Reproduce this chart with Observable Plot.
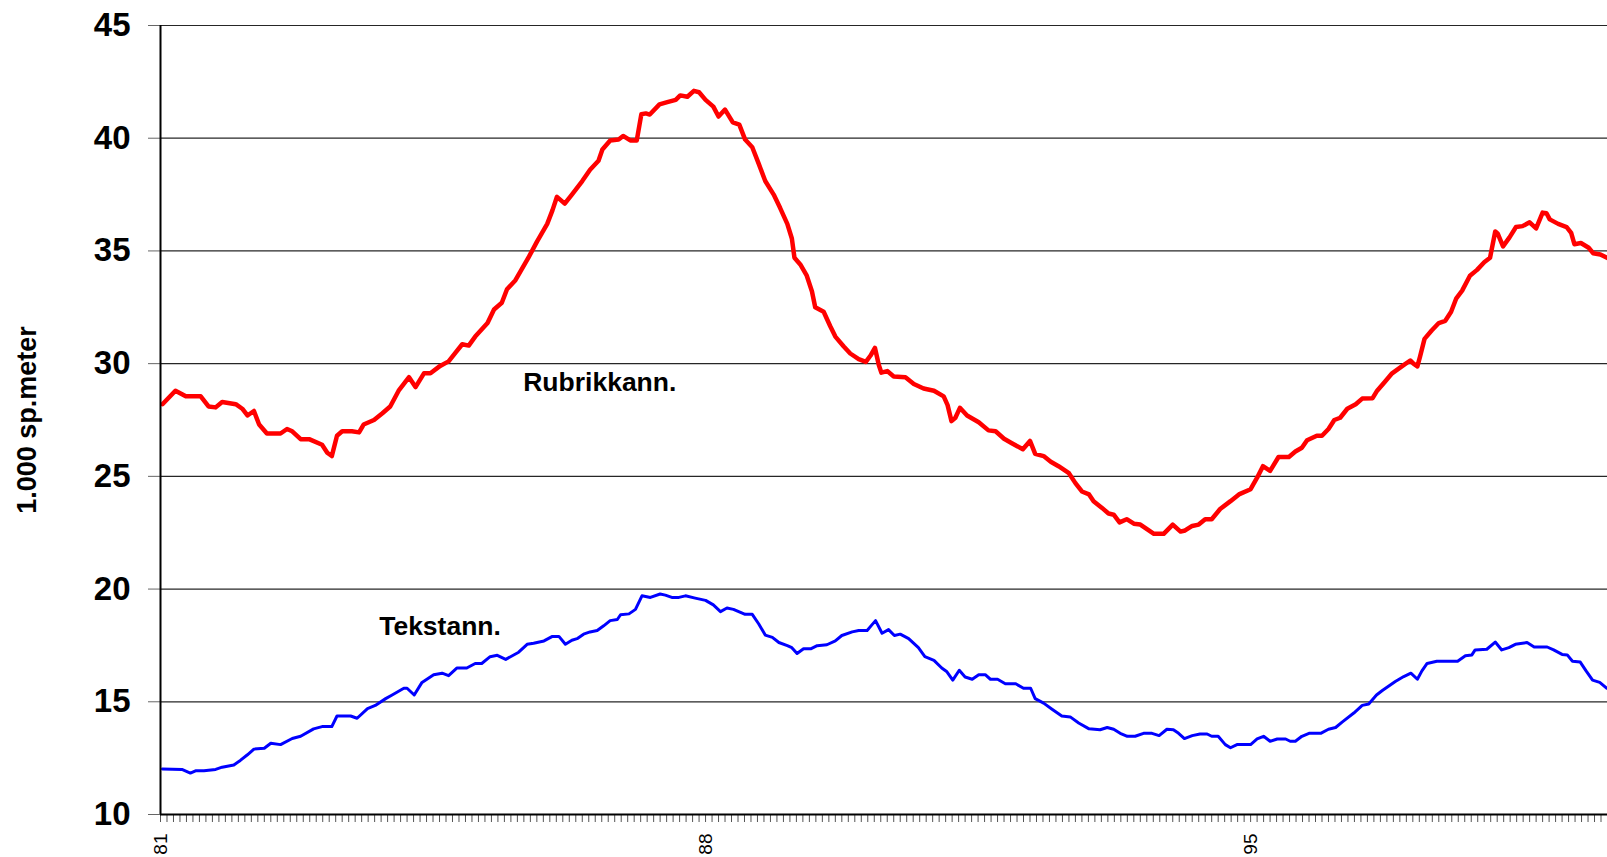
<!DOCTYPE html>
<html>
<head>
<meta charset="utf-8">
<script src="https://cdn.jsdelivr.net/npm/d3@7"></script>
<script src="https://cdn.jsdelivr.net/npm/@observablehq/plot@0.6"></script>
<style>
  html, body { margin: 0; padding: 0; background: #fff; }
  #chart svg { display: block; }
</style>
</head>
<body>
<div id="chart"></div>
<script>
// Month index counted from January 1981 (0 = Jan 81)
const yearTickMonths = [0, 84, 168];
const yearLabels = ["81", "88", "95"];
const monthTicks = d3.range(0, 224);
const yTicks = [10, 15, 20, 25, 30, 35, 40, 45];
const gridValues = [15, 20, 25, 30, 35, 40, 45];
const yTitle = "1.000 sp.meter";

const seriesNames = ["Rubrikkann.", "Tekstann."];

const rubrikMonth = [0.3,2.3,3.9,6.2,7.4,8.5,9.5,11.6,12.6,13.4,14.4,15.2,16.4,18.5,19.5,20.3,21.6,22.9,24.9,25.7,26.4,27.2,28.0,29.5,30.6,31.3,32.9,34.2,35.4,36.7,37.5,38.3,39.3,40.6,41.6,43.1,44.4,45.5,46.5,47.5,48.5,50.4,51.4,52.6,53.4,54.7,55.5,56.7,58.0,59.6,60.4,61.1,62.3,63.4,65.0,66.2,67.5,68.1,69.3,70.6,71.3,72.4,73.4,74.1,74.8,75.4,76.9,78.1,79.4,80.1,81.2,82.2,83.0,84.0,85.2,86.0,87.0,88.2,89.2,90.1,91.2,92.2,93.2,94.5,95.5,96.6,97.3,97.7,98.6,99.6,100.4,100.9,102.2,103.2,104.0,105.3,106.3,107.6,108.7,109.4,110.1,110.7,111.1,112.0,113.0,114.8,116.1,117.6,119.2,120.7,121.3,121.9,122.5,123.2,124.3,126.1,127.6,128.7,130.0,131.2,132.9,134.0,134.8,136.1,137.2,138.4,140.0,141.0,142.0,143.1,143.8,145.1,146.1,146.9,147.8,148.9,150.0,151.0,151.8,153.1,154.6,156.0,157.2,157.9,159.0,160.0,161.0,162.0,163.3,164.9,166.2,168.0,169.0,169.9,171.0,172.3,173.9,174.9,175.9,176.7,178.2,179.0,180.0,180.9,181.8,182.9,184.2,185.2,186.8,187.5,188.7,189.8,191.3,192.6,193.1,193.7,194.1,194.8,195.9,197.0,198.0,198.9,199.7,200.6,201.8,202.9,204.0,204.9,205.7,206.1,206.9,207.9,208.9,209.9,211.0,212.0,213.0,213.6,214.1,215.4,216.7,217.4,217.9,218.9,220.1,220.8,221.9,223.1];
const rubrikValue = [28.2,28.8,28.55,28.55,28.1,28.06,28.3,28.2,28.0,27.7,27.9,27.3,26.9,26.9,27.1,27.0,26.65,26.65,26.4,26.05,25.9,26.8,27.0,27.0,26.95,27.3,27.5,27.8,28.1,28.8,29.1,29.4,28.96,29.57,29.57,29.9,30.1,30.5,30.86,30.8,31.2,31.8,32.4,32.7,33.3,33.7,34.1,34.7,35.4,36.2,36.8,37.4,37.1,37.5,38.1,38.6,39.0,39.5,39.9,39.94,40.1,39.9,39.9,41.06,41.1,41.05,41.5,41.6,41.7,41.9,41.84,42.1,42.04,41.7,41.4,40.96,41.27,40.7,40.6,39.94,39.6,38.86,38.1,37.5,36.9,36.2,35.55,34.7,34.4,33.9,33.2,32.5,32.3,31.67,31.2,30.76,30.45,30.2,30.08,30.35,30.7,29.94,29.6,29.67,29.43,29.4,29.1,28.9,28.8,28.55,28.16,27.45,27.6,28.04,27.7,27.4,27.04,27.0,26.67,26.47,26.2,26.57,26.0,25.9,25.65,25.45,25.14,24.7,24.33,24.2,23.9,23.6,23.35,23.3,22.96,23.1,22.9,22.86,22.7,22.45,22.45,22.86,22.55,22.6,22.8,22.86,23.1,23.1,23.55,23.9,24.2,24.43,24.94,25.45,25.24,25.86,25.86,26.1,26.27,26.6,26.8,26.8,27.1,27.5,27.6,28.0,28.2,28.45,28.47,28.8,29.2,29.57,29.88,30.14,30.0,29.88,30.3,31.1,31.47,31.8,31.9,32.3,32.9,33.24,33.9,34.16,34.5,34.7,35.86,35.76,35.2,35.6,36.06,36.1,36.27,36.0,36.7,36.67,36.4,36.2,36.06,35.8,35.3,35.35,35.14,34.9,34.84,34.67];

const tekstMonth = [0.3,3.3,4.6,5.4,6.7,8.5,9.5,11.3,12.3,13.4,14.4,16.0,17.0,18.5,20.3,21.6,23.6,24.9,26.4,27.2,29.3,30.3,31.9,33.1,34.7,35.7,37.5,38.0,39.1,40.3,42.1,43.4,44.4,45.7,47.2,48.5,49.5,50.8,51.9,53.2,55.2,56.5,57.5,59.1,60.4,61.4,62.4,63.4,64.2,65.2,66.2,67.3,68.3,69.3,70.4,70.9,72.2,73.2,74.2,75.5,77.0,77.8,78.8,79.9,80.9,82.4,84.0,85.2,86.3,87.3,88.3,90.1,91.2,92.2,93.2,94.3,95.3,96.6,97.3,98.1,99.1,100.2,101.2,102.7,104.0,105.0,106.6,107.6,108.9,109.6,110.2,111.2,112.2,113.1,114.0,115.3,116.8,117.8,119.2,120.4,121.2,122.1,123.1,124.0,125.1,126.1,127.1,127.9,129.0,130.2,131.8,133.0,134.1,134.8,136.1,137.4,138.9,140.2,141.5,143.1,144.8,145.9,146.9,147.9,149.0,150.2,151.5,152.8,153.9,155.1,156.1,156.9,157.8,159.0,160.2,161.3,162.0,163.0,164.1,164.9,165.9,168.0,169.0,170.0,171.0,172.1,173.4,174.1,174.9,175.9,177.0,178.8,180.0,181.1,182.1,183.9,185.2,186.2,187.4,188.3,190.3,191.6,192.7,193.7,194.4,195.2,196.7,198.3,199.9,201.1,202.1,202.6,204.4,205.7,206.7,207.8,208.8,210.6,211.7,213.7,214.7,216.0,216.8,217.6,218.8,219.7,220.7,221.8,222.9];
const tekstValue = [12.02,12.0,11.84,11.94,11.94,12.0,12.1,12.2,12.4,12.65,12.9,12.94,13.16,13.1,13.37,13.47,13.8,13.9,13.9,14.37,14.37,14.27,14.7,14.84,15.14,15.3,15.6,15.6,15.3,15.86,16.2,16.27,16.16,16.5,16.5,16.7,16.7,17.0,17.06,16.88,17.2,17.55,17.6,17.7,17.9,17.9,17.55,17.73,17.8,18.0,18.1,18.16,18.37,18.6,18.65,18.86,18.9,19.1,19.7,19.63,19.78,19.73,19.63,19.63,19.7,19.6,19.5,19.3,19.0,19.16,19.1,18.88,18.88,18.45,17.96,17.86,17.63,17.49,17.4,17.14,17.35,17.35,17.49,17.53,17.7,17.94,18.1,18.16,18.16,18.4,18.6,18.04,18.2,17.94,18.0,17.8,17.4,17.0,16.84,16.5,16.33,15.96,16.4,16.1,16.0,16.2,16.2,16.0,16.0,15.8,15.8,15.6,15.6,15.14,14.94,14.67,14.37,14.33,14.06,13.8,13.76,13.86,13.78,13.6,13.47,13.47,13.6,13.6,13.5,13.78,13.76,13.6,13.37,13.5,13.57,13.57,13.47,13.47,13.1,12.96,13.1,13.1,13.35,13.47,13.25,13.35,13.35,13.25,13.25,13.47,13.6,13.6,13.78,13.86,14.1,14.5,14.84,14.9,15.3,15.5,15.9,16.12,16.27,16.0,16.37,16.7,16.8,16.8,16.8,17.04,17.08,17.3,17.33,17.65,17.3,17.4,17.55,17.63,17.43,17.43,17.3,17.1,17.08,16.8,16.76,16.37,15.96,15.86,15.6];

// Annotation anchors (month, value) for the series labels
const labelMonth = [55.9, 33.7];
const labelValue = [29.15, 18.33];

const rubrik = rubrikMonth.map((m, i) => ({month: m, value: rubrikValue[i]}));
const tekst = tekstMonth.map((m, i) => ({month: m, value: tekstValue[i]}));
const lineLabels = seriesNames.map((name, i) => ({name, month: labelMonth[i], value: labelValue[i]}));
const yearLabelMap = new Map(d3.zip(yearTickMonths, yearLabels));

const xDomain = [0, 223];
const yDomain = [10, 45];

const chart = Plot.plot({
  width: 1607,
  height: 857,
  marginTop: 25,
  marginBottom: 43,
  marginLeft: 160,
  marginRight: 0,
  style: {fontFamily: "'Liberation Sans', Arial, sans-serif", background: "#fff", color: "#000"},
  x: {domain: xDomain, axis: null},
  y: {domain: yDomain, axis: null},
  marks: [
    Plot.ruleY(gridValues, {stroke: "#000", strokeWidth: 1.2, strokeOpacity: 0.85}),
    Plot.axisY(yTicks, {anchor: "left", tickSize: 12, tickPadding: 18, fontSize: 33, fontWeight: "bold", stroke: "#666", fill: "#000", label: null}),
    Plot.axisX(monthTicks, {anchor: "bottom", tickSize: 8, tickFormat: () => "", stroke: "#555", label: null}),
    Plot.axisX(yearTickMonths, {anchor: "bottom", tickSize: 0, tickPadding: 19, tickRotate: -90, tickFormat: d => yearLabelMap.get(d), fontSize: 19, fill: "#000", label: null}),
    Plot.line(tekst, {x: "month", y: "value", stroke: "#0000ff", strokeWidth: 3, clip: true}),
    Plot.line(rubrik, {x: "month", y: "value", stroke: "#ff0000", strokeWidth: 4.5, clip: true}),
    Plot.ruleX([xDomain[0]], {stroke: "#000", strokeWidth: 2}),
    Plot.ruleY([yDomain[0]], {stroke: "#000", strokeWidth: 2}),
    Plot.text(lineLabels, {x: "month", y: "value", text: "name", textAnchor: "start", fontSize: 26.5, fontWeight: "bold", fill: "#000"}),
    Plot.text([yTitle], {frameAnchor: "left", dx: -133, rotate: -90, textAnchor: "middle", fontSize: 27, fontWeight: "bold", fill: "#000"})
  ]
});
document.getElementById("chart").append(chart);
</script>
</body>
</html>
